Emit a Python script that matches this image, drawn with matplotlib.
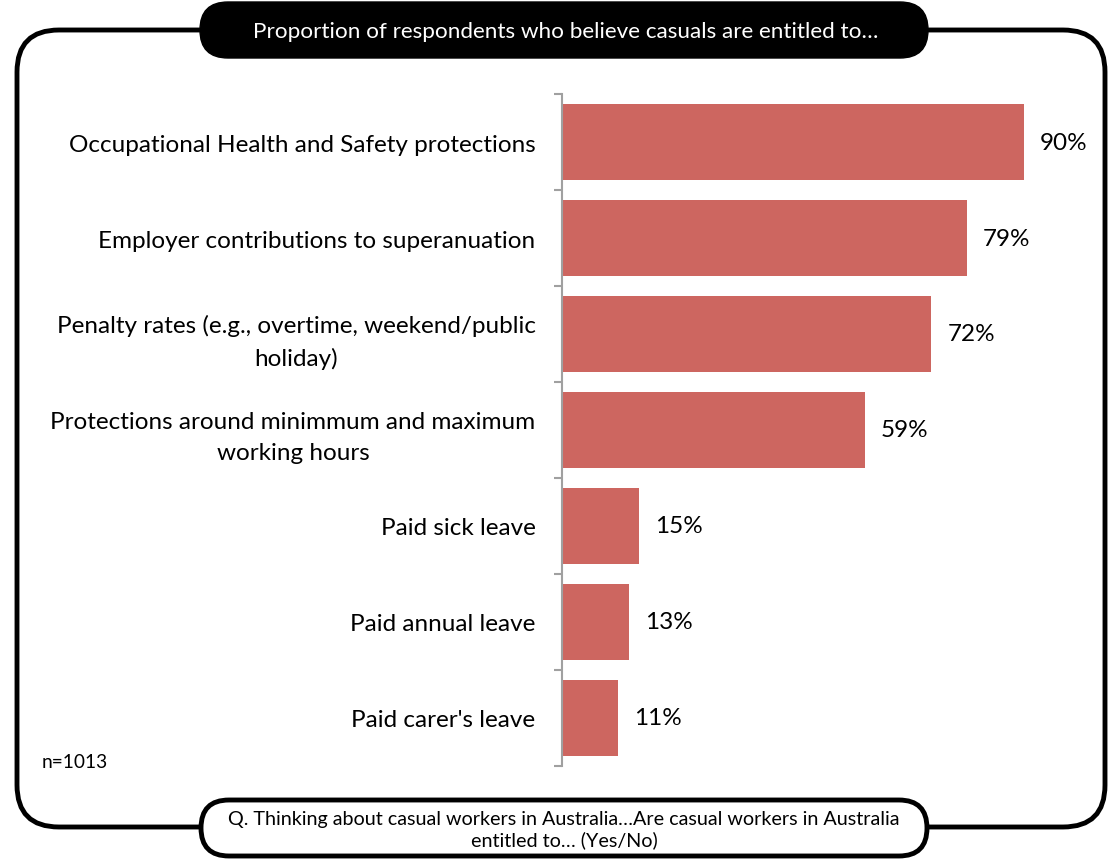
import matplotlib
matplotlib.use("Agg")
import matplotlib.pyplot as plt
from matplotlib.patches import FancyBboxPatch

plt.rcParams['font.family'] = ['Lato', 'DejaVu Sans']

# data
categories = ["Occupational Health and Safety protections",
              "Employer contributions to superanuation",
              "Penalty rates (e.g., overtime, weekend/public\nholiday)",
              "Protections around minimmum and maximum\nworking hours",
              "Paid sick leave",
              "Paid annual leave",
              "Paid carer's leave"]
values = [90, 79, 72, 59, 15, 13, 11]
value_labels = ["90%", "79%", "72%", "59%", "15%", "13%", "11%"]

title_text = "Proportion of respondents who believe casuals are entitled to\u2026"
footer_text = "Q. Thinking about casual workers in Australia\u2026Are casual workers in Australia\nentitled to\u2026 (Yes/No)"
n_text = "n=1013"

W, H = 1115, 862
fig = plt.figure(figsize=(W / 100, H / 100), dpi=100)

# background layer in pixel units
bg = fig.add_axes([0, 0, 1, 1])
bg.set_xlim(0, W)
bg.set_ylim(H, 0)
bg.axis('off')

frame = FancyBboxPatch((17, 31), 1088, 797,
                       boxstyle="round,pad=0,rounding_size=42",
                       fc='white', ec='black', lw=3.5, zorder=1)
bg.add_patch(frame)

title_box = FancyBboxPatch((200, 3), 728, 56,
                           boxstyle="round,pad=0,rounding_size=28",
                           fc='black', ec='black', lw=1, zorder=3)
bg.add_patch(title_box)
bg.text(566, 32, title_text, color='white', fontsize=16.2,
        ha='center', va='center', zorder=4)

footer_box = FancyBboxPatch((201, 801), 726, 56,
                            boxstyle="round,pad=0,rounding_size=28",
                            fc='white', ec='black', lw=3.5, zorder=3)
bg.add_patch(footer_box)
bg.text(564, 830, footer_text, color='black', fontsize=14.2,
        ha='center', va='center', multialignment='center',
        linespacing=1.2, zorder=4)

bg.text(42, 763, n_text, fontsize=13.8, ha='left', va='center', zorder=4)

# chart
ax = fig.add_axes([562 / W, (H - 767) / H, 513 / W, 672 / H])
ax.patch.set_alpha(0)
y = list(range(len(categories)))
ax.barh(y, values, height=0.79, color='#cd6660')
ax.set_xlim(0, 100)
ax.set_ylim(len(categories) - 0.5, -0.5)

for yi, v, lab in zip(y, values, value_labels):
    ax.text(v + 3.1, yi, lab, fontsize=17.5, ha='left', va='center')

for s in ['top', 'right', 'bottom']:
    ax.spines[s].set_visible(False)
ax.spines['left'].set_color('#a0a0a0')
ax.spines['left'].set_linewidth(1.5)
ax.set_xticks([])
ax.set_yticks(y)
ax.set_yticklabels(categories, fontsize=17.5, multialignment='center',
                   linespacing=1.6)
ax.tick_params(axis='y', which='major', length=0, pad=19)
ax.set_yticks([i - 0.5 for i in range(len(categories) + 1)], minor=True)
ax.tick_params(axis='y', which='minor', length=6, width=1.5, color='#a0a0a0')

fig.savefig('out.png', dpi=100)
